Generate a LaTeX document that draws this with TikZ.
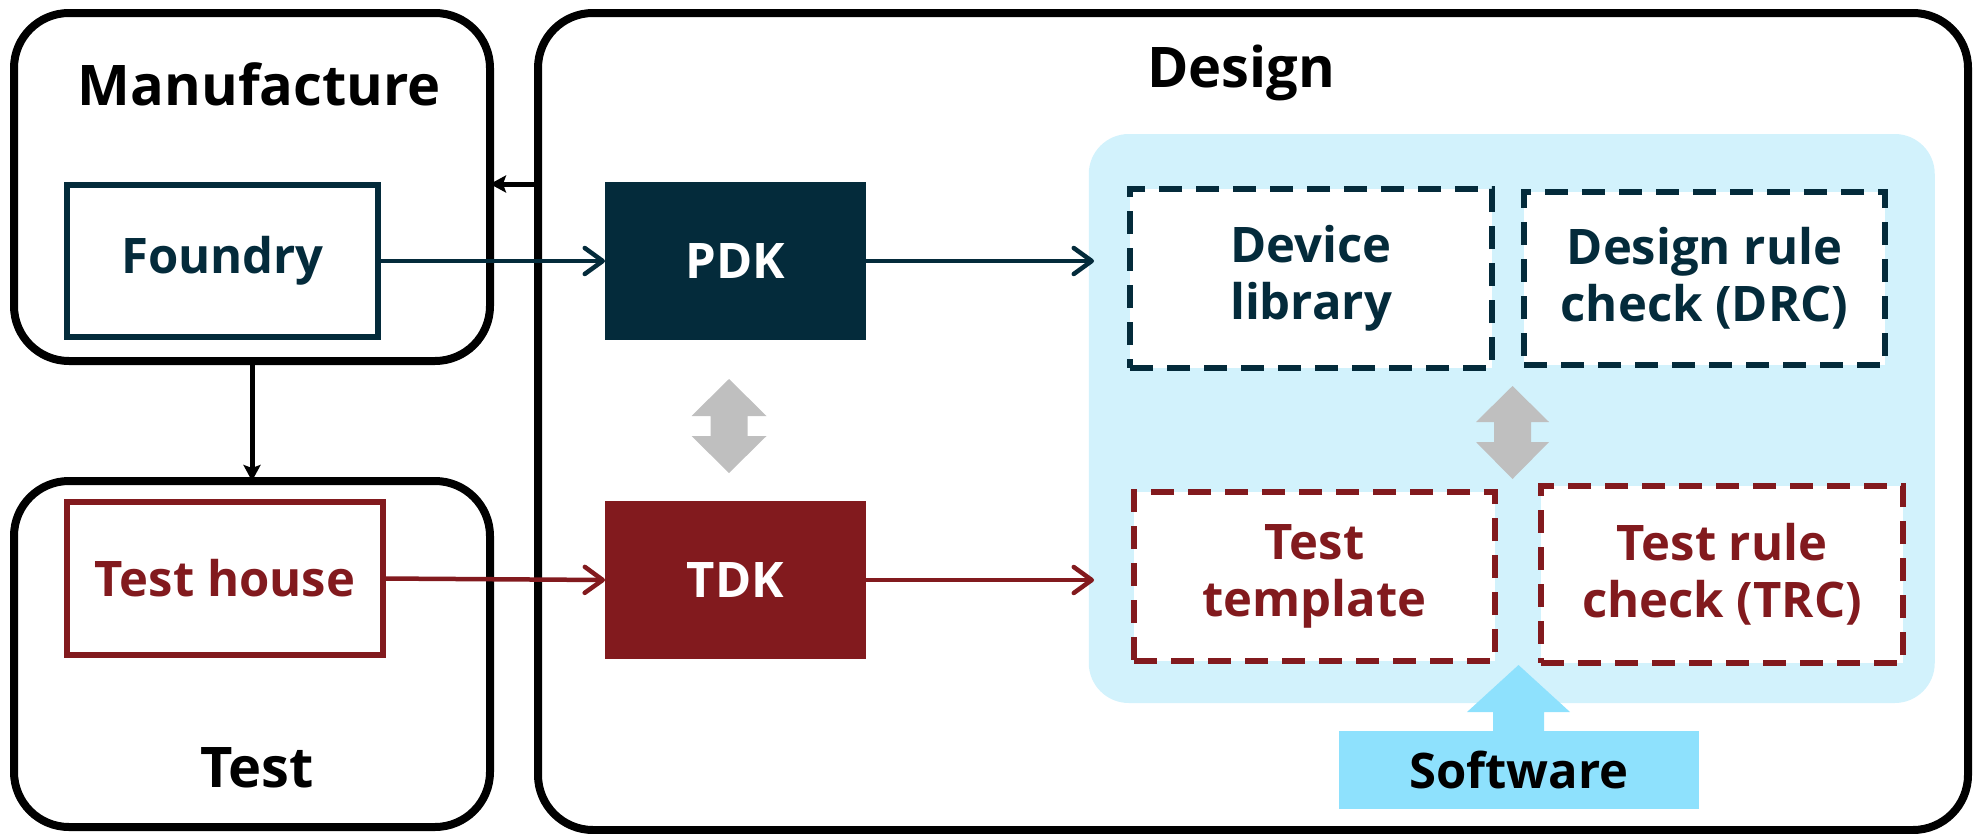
\documentclass[tikz,border=0pt]{standalone}
\usepackage{fontspec}
\setmainfont{Open Sans}
\usetikzlibrary{arrows.meta}

\definecolor{pdkcol}{HTML}{042B3B}
\definecolor{tdkcol}{HTML}{821A1E}
\definecolor{panelcol}{HTML}{D2F2FC}
\definecolor{softcol}{HTML}{8EE1FD}
\definecolor{blockgray}{HTML}{BFBFBF}

\begin{document}
\begin{tikzpicture}[x=1pt, y=-1pt,
  zone/.style={draw=black, line width=8pt, rounded corners=55pt, inner sep=0pt, outer sep=0pt},
  title/.style={font=\bfseries\fontsize{56}{60}\selectfont, anchor=base, inner sep=0pt},
  txt/.style={font=\bfseries\fontsize{49}{57}\selectfont, align=center, inner sep=0pt},
  frame/.style={draw, line width=5.5pt, fill=white, inner sep=0pt, outer sep=0pt},
  kit/.style={inner sep=0pt, outer sep=0pt, text=white},
  dashbox/.style={draw, line width=6pt, dash pattern=on 23pt off 14pt, fill=white, inner sep=0pt, outer sep=0pt},
  link/.style={line width=4.5pt, -{Straight Barb[length=18pt, width=26pt, round]}},
  feed/.style={black, line width=5pt, -{Stealth[length=16pt, width=17pt, inset=3pt]}}
]
\useasboundingbox (0,0) rectangle (1973,833);

% three zones
\node[zone, minimum width=476pt, minimum height=348pt] (manu) at (252,187) {};
\node[zone, minimum width=476pt, minimum height=346pt] (test) at (252,654) {};
\node[zone, minimum width=1430pt, minimum height=817pt] (design) at (1253,421.5) {};

\node[title] (manutitle) at (259.5,105) {Manufacture};
\node[title] (designtitle) at (1241,87) {Design};
\node[title] (testtitle) at (257,787) {Test};

% tool panel
\node[fill=panelcol, rounded corners=40pt, minimum width=846pt, minimum height=569pt, inner sep=0pt, outer sep=0pt] (panel) at (1511.75,418.5) {};

% sources and kits
\node[frame, draw=pdkcol, text=pdkcol, txt, minimum width=311pt, minimum height=152pt] (foundry) at (222.5,261) {Foundry};
\node[frame, draw=tdkcol, text=tdkcol, txt, minimum width=316pt, minimum height=153pt] (house) at (225,578.5) {Test house};
\node[kit, fill=pdkcol, txt, text=white, minimum width=261pt, minimum height=158pt] (pdk) at (735.5,261) {PDK};
\node[kit, fill=tdkcol, txt, text=white, minimum width=261pt, minimum height=158pt] (tdk) at (735.5,580) {TDK};

% contents of the kits
\node[dashbox, draw=pdkcol, text=pdkcol, txt, minimum width=362pt, minimum height=179pt] (devlib) at (1311,278.5) {Device\\library};
\node[dashbox, draw=pdkcol, text=pdkcol, txt, minimum width=361pt, minimum height=173pt] (drc) at (1704.5,278.5) {Design rule\\check (DRC)};
\node[dashbox, draw=tdkcol, text=tdkcol, txt, minimum width=361pt, minimum height=169pt] (tmpl) at (1314.5,576.5) {Test\\template};
\node[dashbox, draw=tdkcol, text=tdkcol, txt, minimum width=362pt, minimum height=177pt] (trc) at (1722,574.5) {Test rule\\check (TRC)};

% software
\node[fill=softcol, txt, text=black, minimum width=360pt, minimum height=78pt, inner sep=0pt, outer sep=0pt] (soft) at (1519,770) {Software};

% block arrows
\fill[blockgray] (729,379) -- (766.5,416) -- (747.5,416) -- (747.5,436) -- (766.5,436) -- (729,473)
  -- (691.5,436) -- (710.5,436) -- (710.5,416) -- (691.5,416) -- cycle;
\fill[blockgray] (1512.5,386) -- (1549,422) -- (1531,422) -- (1531,442) -- (1549,442) -- (1512.5,479)
  -- (1476,442) -- (1494,442) -- (1494,422) -- (1476,422) -- cycle;
\fill[softcol] (1518.5,665) -- (1570,712) -- (1544,712) -- (1544,731) -- (1493,731) -- (1493,712) -- (1467,712) -- cycle;

% connectors
\coordinate (pdkin) at (1094,261);
\coordinate (tdkin) at (1094,580);
\coordinate (fb) at (538,184);
\draw[link, pdkcol] (foundry.east) -- (pdk.west);
\draw[link, pdkcol] (pdk.east) -- (pdkin);
\draw[link, tdkcol] (house.east) -- (tdk.west);
\draw[link, tdkcol] (tdk.east) -- (tdkin);
\draw[feed] (fb) -- (manu.east |- fb);
\draw[feed] (manu.south) -- (test.north);
\end{tikzpicture}
\end{document}
